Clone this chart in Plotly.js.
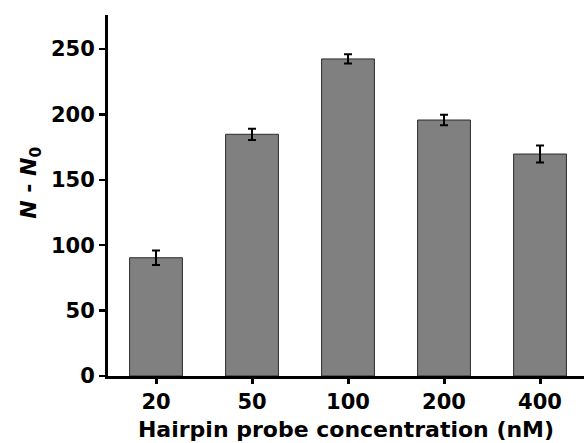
<!DOCTYPE html>
<html>
<head>
<meta charset="utf-8">
<script src="https://cdn.plot.ly/plotly-3.0.1.min.js"></script>
<style>html,body{margin:0;padding:0;background:#fff;}#chart{width:584px;height:443px;}</style>
</head>
<body>
<div id="chart"></div>
<script>
const categories = ["20", "50", "100", "200", "400"];
const values = [90.4, 184.8, 242.4, 195.7, 169.7];
const errors = [5.5, 4.3, 3.5, 4.0, 6.5];
const yTickVals = [0, 50, 100, 150, 200, 250];

const font = "DejaVu Sans, sans-serif";

const trace = {
  type: "bar",
  x: categories,
  y: values,
  error_y: {type: "data", array: errors, visible: true, color: "#000", thickness: 2, width: 4},
  marker: {color: "#808080", line: {color: "#2a2a2a", width: 1}},
  hoverinfo: "none"
};

const layout = {
  width: 584, height: 443,
  margin: {l: 108, r: 0, t: 15, b: 67},
  paper_bgcolor: "#fff", plot_bgcolor: "#fff",
  showlegend: false,
  bargap: 0.45,
  font: {family: font, color: "#000"},
  xaxis: {
    type: "category",
    range: [-0.5, 4.458],
    showline: true, linecolor: "#000", linewidth: 3,
    ticks: "outside", ticklen: 5, tickwidth: 3, tickcolor: "#000",
    tickfont: {family: font, size: 21, weight: "bold"},
    showgrid: false, zeroline: false,
    title: {text: "<b>Hairpin probe concentration (nM)</b>", font: {family: font, size: 22}, standoff: 9}
  },
  yaxis: {
    range: [0, 276],
    tickvals: yTickVals,
    showline: true, linecolor: "#000", linewidth: 3,
    ticks: "outside", ticklen: 6, tickwidth: 2.5, tickcolor: "#000",
    tickfont: {family: font, size: 21, weight: "bold"},
    showgrid: false, zeroline: false
  },
  annotations: [{
    text: "<b><i>N</i> - <i>N</i><sub>0</sub></b>",
    xref: "paper", yref: "paper",
    x: -0.162, y: 0.535,
    xanchor: "center", yanchor: "middle",
    textangle: -90, showarrow: false,
    font: {family: font, size: 22, color: "#000"}
  }]
};

Plotly.newPlot("chart", [trace], layout, {staticPlot: true, displayModeBar: false});
</script>
</body>
</html>
